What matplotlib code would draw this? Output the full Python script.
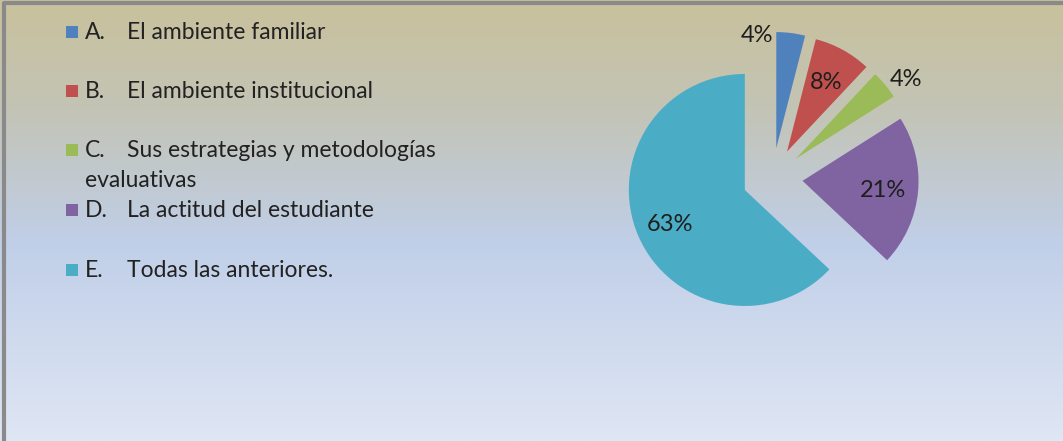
import numpy as np
import matplotlib.pyplot as plt
from matplotlib.colors import LinearSegmentedColormap

plt.rcParams['font.family'] = ['Lato', 'DejaVu Sans']

letters = ['A.', 'B.', 'C.', 'D.', 'E.']
options = ['El ambiente familiar', 'El ambiente institucional',
           'Sus estrategias y metodologías', 'La actitud del estudiante',
           'Todas las anteriores.']
shares = [4, 8, 4, 21, 63]
colors = ['#4f81bd', '#c0504d', '#9bbb59', '#8064a2', '#4bacc6']

W, H = 1063, 441
R = 116
fig = plt.figure(figsize=(W / 100, H / 100), dpi=100)
ax = fig.add_axes([0, 0, 1, 1])

# vertical background gradient, tan on top fading to pale blue
bg = LinearSegmentedColormap.from_list(
    'bg', [(0.0, '#c9c19c'), (0.25, '#c3c4b6'), (0.55, '#c0cfe8'), (1.0, '#dfe6f4')])
grad = np.linspace(0, 1, 256).reshape(-1, 1)
ax.imshow(grad, cmap=bg, extent=(0, W, 0, H), origin='upper', aspect='auto', zorder=0)

# frame on top and left
ax.plot([4, 4, W], [0, H - 2.5, H - 2.5], color='#8a8a8a', lw=3, zorder=1,
        solid_capstyle='butt')

# pie, clockwise from 12 o'clock, every slice pulled out
wedges, texts, autos = ax.pie(
    shares, colors=colors, startangle=90, counterclock=False,
    center=(772.5, H - 178), radius=R, explode=[0.26 * R] * 5,
    autopct='%d%%', pctdistance=0.7, frame=True,
    wedgeprops=dict(linewidth=0),
    textprops=dict(fontsize=17, color='#1e1e1e'))
ax.set_xlim(0, W)
ax.set_ylim(0, H)
ax.set_aspect('equal')
ax.axis('off')
for a in autos:
    a.set_ha('center')
    a.set_va('center_baseline')
autos[0].set_position((757, H - 34))
autos[2].set_position((906, H - 77))

# legend
rows = [39, 98, 157, 217, 277]
for i, y in enumerate(rows):
    ax.add_patch(plt.Rectangle((66, H - y + 1), 12, 12, color=colors[i], lw=0, zorder=3))
    ax.text(85, H - y, letters[i], fontsize=16.5, color='#222222', va='baseline', zorder=3)
    ax.text(127, H - y, options[i], fontsize=16.5, color='#222222', va='baseline', zorder=3)
ax.text(85, H - 187, 'evaluativas', fontsize=16.5, color='#222222', va='baseline', zorder=3)

fig.savefig('out.png', dpi=100)
